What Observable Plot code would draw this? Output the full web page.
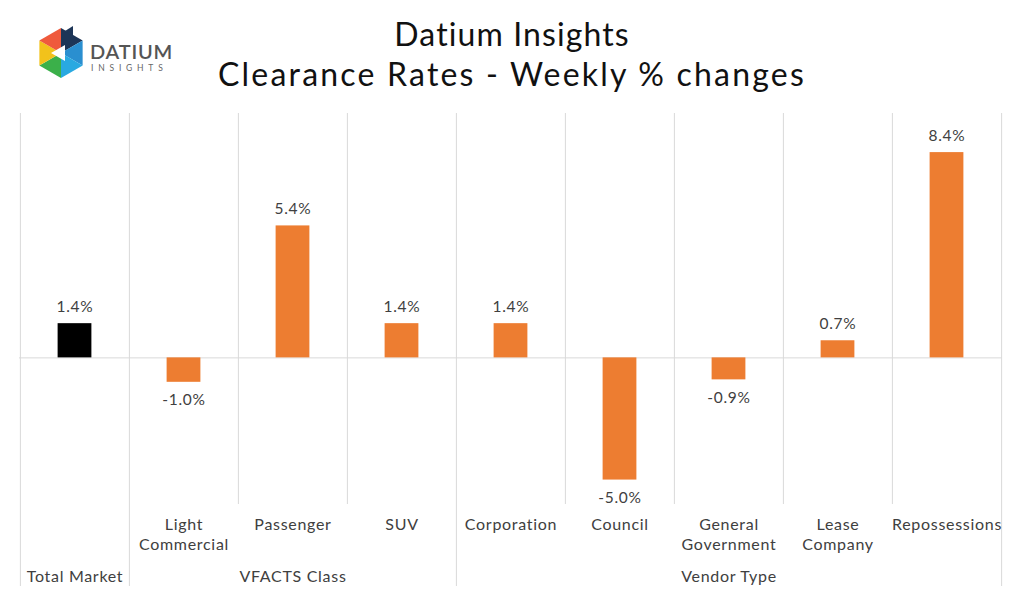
<!DOCTYPE html>
<html>
<head>
<meta charset="utf-8">
<script src="https://cdn.jsdelivr.net/npm/d3@7"></script>
<script src="https://cdn.jsdelivr.net/npm/@observablehq/plot@0.6"></script>
<style>
  html, body { margin: 0; padding: 0; background: #fff; }
  body { width: 1024px; height: 594px; position: relative; overflow: hidden; font-family: Lato, "Noto Sans", sans-serif; }
  #header { position: relative; height: 110px; }
  #title { position: absolute; left: 0; right: 0; top: 14px; text-align: center; font-size: 32px; line-height: 40px; color: #111; }
  #title .l1 { letter-spacing: 1.1px; }
  #title .l2 { letter-spacing: 2.2px; }
  #logo { position: absolute; left: 34px; top: 24px; }
  #chart svg { display: block; }
</style>
</head>
<body>
<div id="header">
  <svg id="logo" width="150" height="60" viewBox="0 0 150 60">
    <g transform="translate(27,29)">
      <polygon points="0,0 0,-25 21.65,-12.5" fill="#1d3557"/>
      <polygon points="0,0 21.65,-12.5 21.65,12.5" fill="#2a8fd0"/>
      <polygon points="0,0 21.65,12.5 0,25" fill="#29a9e1"/>
      <polygon points="0,0 0,25 -21.65,12.5" fill="#3bb04a"/>
      <polygon points="0,0 -21.65,12.5 -21.65,-12.5" fill="#f2c21b"/>
      <polygon points="0,0 -21.65,-12.5 0,-25" fill="#ef5a3c"/>
      <polygon points="-10,0 4,-8 4,8" fill="#fff"/>
      <polygon points="4,-22 12,-27 12,-17" fill="#1d3557"/>
    </g>
    <text x="56" y="35" font-family="Lato, sans-serif" font-size="20" font-weight="600" fill="#555" letter-spacing="0.8">DATIUM</text>
    <text x="57" y="47" font-family="Lato, sans-serif" font-size="8.5" fill="#666" letter-spacing="4.8">INSIGHTS</text>
  </svg>
  <div id="title"><span class="l1">Datium Insights</span><br><span class="l2">Clearance Rates - Weekly % changes</span></div>
</div>
<div id="chart"></div>
<script>
// ---- data ----
const categories = ["Total Market", "Light Commercial", "Passenger", "SUV", "Corporation", "Council", "General Government", "Lease Company", "Repossessions"];
const tickLabels = ["", "Light\nCommercial", "Passenger", "SUV", "Corporation", "Council", "General\nGovernment", "Lease\nCompany", "Repossessions"];
const groups = ["Total Market", "VFACTS Class", "VFACTS Class", "VFACTS Class", "Vendor Type", "Vendor Type", "Vendor Type", "Vendor Type", "Vendor Type"];
const values = [1.4, -1.0, 5.4, 1.4, 1.4, -5.0, -0.9, 0.7, 8.4];
const highlight = ["Total Market"];

// ---- derived table ----
const data = categories.map((c, i) => ({
  cat: c, label: tickLabels[i], group: groups[i], value: values[i],
  groupStart: i === 0 || groups[i] !== groups[i - 1]
}));
const groupNames = [...new Set(groups)];
const groupRows = groupNames.map(g => {
  const members = categories.filter((c, i) => groups[i] === g);
  return {name: g, mid: members[Math.floor((members.length - 1) / 2)]};
});

const W = 1024, H = 484, ML = 19, MR = 22, MT = 3, MB = 90;
const step = (W - ML - MR) / categories.length;
const barW = 34;
const inset = (step - barW) / 2;
const grid = "#d9d9d9";
const orange = "#ED7D31";
const textColor = "#404040";

const chart = Plot.plot({
  width: W, height: H,
  marginLeft: ML, marginRight: MR, marginTop: MT, marginBottom: MB,
  x: {type: "band", domain: categories, padding: 0, axis: null},
  y: {domain: [-6, 10], axis: null},
  style: {fontFamily: "Lato, 'Noto Sans', sans-serif", fontSize: "16px", letterSpacing: "0.7px", color: textColor, background: "#fff"},
  marks: [
    Plot.ruleY([0], {stroke: grid, strokeWidth: 1}),
    Plot.ruleX(data.filter(d => !d.groupStart), {x: "cat", dx: -step / 2, stroke: grid}),
    Plot.ruleX(data.filter(d => d.groupStart), {x: "cat", dx: -step / 2, stroke: grid, insetBottom: -82}),
    Plot.ruleX(data.slice(-1), {x: "cat", dx: step / 2, stroke: grid, insetBottom: -82}),
    Plot.barY(data, {x: "cat", y: "value", fill: d => highlight.includes(d.cat) ? "#000" : orange, insetLeft: inset, insetRight: inset}),
    Plot.text(data, {x: "cat", y: "value", text: d => d.value.toFixed(1) + "%", fill: textColor,
      fontSize: 15.5, lineAnchor: "middle", filter: d => d.value >= 0, dy: -17}),
    Plot.text(data, {x: "cat", y: "value", text: d => d.value.toFixed(1) + "%", fill: textColor,
      fontSize: 15.5, lineAnchor: "middle", filter: d => d.value < 0, dy: 18}),
    Plot.text(data, {x: "cat", text: "label", frameAnchor: "bottom", lineAnchor: "top", dy: 11, lineHeight: 1.25, fill: textColor}),
    Plot.text(groupRows, {x: "mid", text: "name", frameAnchor: "bottom", lineAnchor: "middle", dy: 72, fill: textColor})
  ]
});
document.getElementById("chart").appendChild(chart);
</script>
</body>
</html>
